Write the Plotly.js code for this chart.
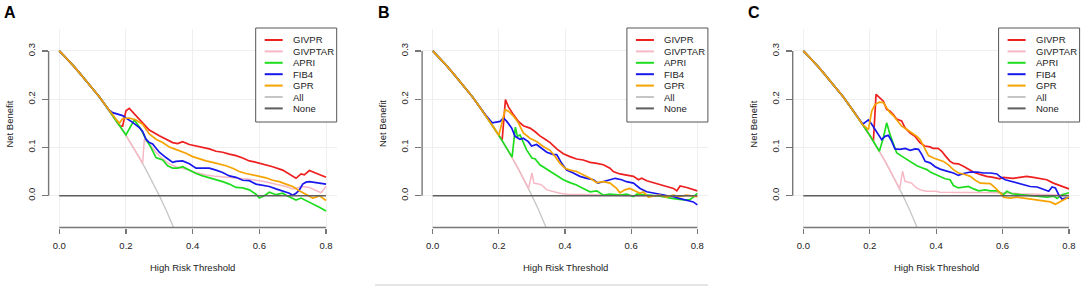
<!DOCTYPE html>
<html>
<head>
<meta charset="utf-8">
<script src="https://cdn.plot.ly/plotly-3.0.1.min.js"></script>
<style>
  html, body { margin: 0; padding: 0; background: #ffffff; }
  #chart { width: 1084px; height: 287px; }
</style>
</head>
<body>
<div id="chart"></div>
<script>
// ---------------- DATA ----------------
const seriesNames = ['GIVPR', 'GIVPTAR', 'APRI', 'FIB4', 'GPR', 'All', 'None'];
const panelLabels = ['A', 'B', 'C'];
const xTickVals = [0, 0.2, 0.4, 0.6, 0.8];
const xTickText = ['0.0', '0.2', '0.4', '0.6', '0.8'];
const yTickVals = [0, 0.1, 0.2, 0.3];
const yTickText = ['0.0', '0.1', '0.2', '0.3'];
const xTitle = 'High Risk Threshold';
const yTitle = 'Net Benefit';

// shared early segment (all models coincide here)
const commonT  = [0, 0.02, 0.04, 0.06, 0.08, 0.10, 0.12, 0.14];
const commonNB = [0.300, 0.286, 0.271, 0.255, 0.239, 0.222, 0.205, 0.186];

// treat-all and treat-none reference lines (same in every panel)
const allT  = [0, 0.02, 0.04, 0.06, 0.08, 0.10, 0.12, 0.14, 0.16, 0.18, 0.20, 0.22, 0.24, 0.26, 0.28, 0.30, 0.32, 0.34, 0.36];
const allNB = [0.300, 0.286, 0.271, 0.255, 0.239, 0.222, 0.205, 0.186, 0.167, 0.146, 0.125, 0.103, 0.079, 0.054, 0.028, 0.000, -0.029, -0.061, -0.094];
const noneT  = [0, 0.8];
const noneNB = [0, 0];

// ---- Panel A ----
const A_GIVPR_t  = [0.16,0.18,0.19,0.20,0.21,0.23,0.25,0.27,0.30,0.32,0.34,0.355,0.37,0.39,0.42,0.45,0.47,0.49,0.51,0.53,0.55,0.57,0.585,0.61,0.64,0.67,0.69,0.71,0.725,0.735,0.75,0.77,0.80];
const A_GIVPR_nb = [0.167,0.146,0.144,0.176,0.181,0.166,0.150,0.136,0.124,0.117,0.110,0.108,0.112,0.106,0.102,0.097,0.092,0.090,0.086,0.083,0.078,0.072,0.070,0.066,0.060,0.053,0.045,0.036,0.045,0.043,0.052,0.046,0.038];
const A_GIVPTAR_t  = [0.16,0.18,0.20,0.22,0.24,0.25,0.255,0.27,0.29,0.31,0.33,0.35,0.37,0.39,0.41,0.44,0.47,0.50,0.53,0.57,0.61,0.65,0.68,0.70,0.715,0.73,0.75,0.77,0.785,0.80];
const A_GIVPTAR_nb = [0.167,0.146,0.125,0.103,0.079,0.067,0.117,0.107,0.090,0.076,0.066,0.060,0.057,0.053,0.048,0.043,0.040,0.038,0.037,0.034,0.030,0.024,0.019,0.014,0.017,0.019,0.017,0.010,0.006,0.019];
const A_APRI_t  = [0.16,0.18,0.20,0.225,0.245,0.26,0.275,0.29,0.31,0.325,0.34,0.355,0.37,0.39,0.41,0.43,0.45,0.47,0.49,0.51,0.53,0.55,0.57,0.59,0.60,0.615,0.63,0.65,0.67,0.68,0.70,0.71,0.725,0.74,0.76,0.78,0.80];
const A_APRI_nb = [0.167,0.146,0.126,0.157,0.138,0.117,0.100,0.079,0.074,0.062,0.057,0.057,0.060,0.053,0.046,0.041,0.037,0.034,0.029,0.024,0.017,0.016,0.012,0.003,-0.005,0.000,0.007,0.002,0.005,0.001,-0.005,-0.009,-0.005,-0.010,-0.017,-0.024,-0.032];
const A_FIB4_t  = [0.15,0.16,0.18,0.19,0.20,0.22,0.24,0.25,0.26,0.27,0.28,0.30,0.32,0.34,0.35,0.37,0.39,0.41,0.43,0.45,0.47,0.49,0.51,0.53,0.55,0.57,0.59,0.61,0.63,0.65,0.67,0.69,0.70,0.71,0.72,0.73,0.74,0.75,0.76,0.78,0.80];
const A_FIB4_nb = [0.177,0.172,0.168,0.166,0.161,0.152,0.141,0.133,0.117,0.110,0.107,0.090,0.079,0.069,0.071,0.072,0.066,0.057,0.057,0.057,0.053,0.048,0.041,0.038,0.032,0.031,0.024,0.022,0.019,0.014,0.010,0.005,0.001,0.005,0.012,0.024,0.028,0.029,0.028,0.026,0.024];
const A_GPR_t  = [0.16,0.17,0.18,0.19,0.21,0.23,0.25,0.27,0.29,0.31,0.33,0.345,0.36,0.38,0.40,0.42,0.44,0.46,0.48,0.50,0.52,0.54,0.56,0.58,0.60,0.62,0.64,0.66,0.68,0.70,0.72,0.74,0.76,0.77,0.78,0.80];
const A_GPR_nb = [0.167,0.157,0.150,0.160,0.161,0.157,0.148,0.128,0.117,0.110,0.101,0.097,0.093,0.088,0.081,0.076,0.072,0.069,0.066,0.062,0.057,0.050,0.046,0.043,0.039,0.037,0.032,0.029,0.024,0.019,0.010,0.003,-0.005,-0.003,0.000,-0.010];

// ---- Panel B ----
const B_GIVPR_t  = [0.16,0.18,0.20,0.21,0.22,0.229,0.244,0.259,0.274,0.294,0.309,0.324,0.34,0.355,0.375,0.395,0.415,0.435,0.455,0.476,0.496,0.516,0.536,0.546,0.566,0.586,0.607,0.622,0.632,0.647,0.667,0.687,0.707,0.728,0.738,0.748,0.768,0.788,0.80];
const B_GIVPR_nb = [0.167,0.146,0.125,0.115,0.199,0.184,0.168,0.154,0.145,0.140,0.133,0.124,0.117,0.110,0.097,0.087,0.081,0.076,0.074,0.069,0.067,0.064,0.057,0.050,0.045,0.043,0.040,0.033,0.036,0.031,0.027,0.024,0.019,0.015,0.010,0.020,0.017,0.013,0.010];
const B_GIVPTAR_t  = [0.16,0.18,0.20,0.22,0.24,0.26,0.28,0.29,0.30,0.306,0.32,0.33,0.345,0.365,0.385,0.405,0.45,0.50,0.55,0.60,0.70,0.80];
const B_GIVPTAR_nb = [0.167,0.146,0.125,0.103,0.079,0.054,0.028,0.015,0.047,0.026,0.024,0.022,0.012,0.008,0.005,0.003,0.003,0.002,0.001,0.000,0.000,0.000];
const B_APRI_t  = [0.16,0.18,0.20,0.22,0.24,0.25,0.256,0.264,0.274,0.284,0.30,0.31,0.324,0.34,0.355,0.375,0.395,0.415,0.435,0.455,0.476,0.496,0.516,0.536,0.566,0.586,0.607,0.617,0.647,0.687,0.728,0.758,0.778,0.788,0.80];
const B_APRI_nb = [0.167,0.146,0.125,0.103,0.080,0.142,0.123,0.126,0.109,0.095,0.078,0.076,0.064,0.057,0.050,0.043,0.033,0.027,0.022,0.015,0.008,0.010,0.001,0.003,0.001,0.003,-0.002,0.003,0.001,-0.001,-0.006,-0.009,-0.008,-0.003,0.005];
const B_FIB4_t  = [0.16,0.18,0.193,0.204,0.214,0.224,0.239,0.249,0.264,0.274,0.289,0.299,0.314,0.33,0.345,0.365,0.375,0.39,0.405,0.425,0.445,0.466,0.486,0.50,0.516,0.531,0.552,0.571,0.586,0.607,0.627,0.647,0.667,0.687,0.707,0.728,0.748,0.768,0.788,0.80];
const B_FIB4_nb = [0.167,0.151,0.152,0.154,0.161,0.154,0.140,0.123,0.117,0.119,0.112,0.103,0.106,0.097,0.090,0.085,0.085,0.067,0.053,0.047,0.040,0.036,0.033,0.026,0.029,0.033,0.036,0.033,0.029,0.026,0.015,0.008,0.006,0.003,0.000,-0.002,-0.006,-0.009,-0.013,-0.019];
const B_GPR_t  = [0.16,0.18,0.20,0.219,0.229,0.244,0.259,0.274,0.294,0.314,0.334,0.355,0.37,0.385,0.40,0.415,0.435,0.455,0.476,0.496,0.516,0.536,0.556,0.566,0.581,0.596,0.611,0.627,0.637,0.652,0.667,0.687,0.707,0.727,0.747,0.767,0.788,0.80];
const B_GPR_nb = [0.167,0.146,0.125,0.178,0.175,0.165,0.151,0.130,0.119,0.1125,0.102,0.094,0.081,0.067,0.057,0.053,0.050,0.043,0.036,0.027,0.029,0.026,0.015,0.006,0.012,0.015,0.010,0.005,0.008,-0.003,-0.001,0.001,-0.003,0.001,-0.002,0.001,-0.001,-0.002];

// ---- Panel C ----
const C_GIVPR_t  = [0.16,0.18,0.20,0.211,0.219,0.231,0.241,0.251,0.261,0.271,0.281,0.296,0.306,0.321,0.336,0.351,0.366,0.381,0.391,0.406,0.417,0.427,0.442,0.452,0.467,0.482,0.497,0.512,0.532,0.552,0.572,0.592,0.602,0.622,0.632,0.652,0.672,0.693,0.713,0.733,0.753,0.773,0.80];
const C_GIVPR_nb = [0.167,0.146,0.125,0.113,0.210,0.203,0.196,0.179,0.175,0.168,0.159,0.155,0.141,0.130,0.123,0.110,0.103,0.101,0.098,0.098,0.092,0.083,0.071,0.067,0.066,0.061,0.055,0.049,0.044,0.040,0.038,0.035,0.038,0.037,0.036,0.038,0.040,0.038,0.036,0.033,0.026,0.021,0.014];
const C_GIVPTAR_t  = [0.16,0.18,0.20,0.22,0.24,0.26,0.28,0.29,0.299,0.306,0.316,0.326,0.341,0.356,0.371,0.401,0.411,0.452,0.502,0.552,0.602,0.652,0.703,0.753,0.80];
const C_GIVPTAR_nb = [0.167,0.146,0.125,0.103,0.079,0.054,0.028,0.014,0.051,0.030,0.028,0.026,0.016,0.011,0.009,0.009,0.007,0.007,0.007,0.007,0.006,0.004,0.003,0.002,0.001];
const C_APRI_t  = [0.16,0.18,0.20,0.22,0.229,0.241,0.251,0.261,0.271,0.281,0.296,0.312,0.327,0.342,0.357,0.372,0.382,0.397,0.412,0.427,0.442,0.452,0.467,0.482,0.497,0.513,0.528,0.548,0.563,0.583,0.603,0.613,0.628,0.653,0.683,0.714,0.734,0.754,0.764,0.779,0.80];
const C_APRI_nb = [0.167,0.146,0.125,0.103,0.092,0.120,0.151,0.127,0.106,0.089,0.082,0.075,0.068,0.062,0.058,0.054,0.049,0.044,0.039,0.035,0.033,0.021,0.016,0.018,0.019,0.014,0.010,0.012,0.010,0.010,0.002,0.009,0.004,0.002,0.000,-0.001,-0.003,-0.001,-0.006,0.002,0.006];
const C_FIB4_t  = [0.16,0.179,0.186,0.196,0.206,0.216,0.226,0.236,0.246,0.256,0.266,0.276,0.291,0.307,0.322,0.337,0.347,0.357,0.367,0.382,0.397,0.412,0.432,0.452,0.467,0.482,0.503,0.523,0.543,0.563,0.583,0.593,0.608,0.623,0.643,0.663,0.683,0.704,0.724,0.739,0.749,0.759,0.769,0.779,0.789,0.80];
const C_FIB4_nb = [0.167,0.148,0.152,0.157,0.148,0.137,0.127,0.116,0.123,0.125,0.113,0.097,0.096,0.098,0.094,0.097,0.096,0.085,0.071,0.068,0.060,0.055,0.051,0.047,0.042,0.046,0.049,0.049,0.047,0.047,0.045,0.039,0.033,0.030,0.026,0.023,0.019,0.018,0.012,0.009,0.018,0.016,0.002,-0.007,-0.005,-0.005];
const C_GPR_t  = [0.16,0.18,0.186,0.196,0.206,0.216,0.229,0.241,0.251,0.261,0.271,0.281,0.296,0.312,0.327,0.342,0.352,0.362,0.377,0.392,0.407,0.422,0.437,0.452,0.467,0.482,0.503,0.518,0.533,0.548,0.563,0.578,0.593,0.603,0.623,0.643,0.663,0.683,0.704,0.724,0.744,0.759,0.774,0.789,0.80];
const C_GPR_nb = [0.167,0.146,0.143,0.137,0.175,0.189,0.194,0.193,0.182,0.172,0.166,0.158,0.144,0.137,0.130,0.123,0.116,0.103,0.083,0.078,0.075,0.071,0.064,0.054,0.047,0.045,0.040,0.032,0.026,0.025,0.025,0.016,0.006,-0.003,-0.005,-0.003,-0.005,-0.006,-0.008,-0.010,-0.013,-0.018,-0.012,-0.007,-0.003];

// ---------------- STYLE ----------------
const colors = {GIVPR:'#ee1f1f', GIVPTAR:'#f6b8c4', APRI:'#1edd1e', FIB4:'#1818ee', GPR:'#f5a300', All:'#c6c6c6', None:'#5e5e5e'};
const widths = {GIVPR:1.7, GIVPTAR:1.5, APRI:1.7, FIB4:1.7, GPR:1.7, All:1.3, None:1.5};
const FONT = 'Liberation Sans, Arial, Helvetica, sans-serif';
const W = 1084, H = 287;
const px = p => p / W;
const py = p => 1 - p / H;

// plot-region pixel boxes of the three panels
const boxes = [
  {l: 48.6, r: 336.7},
  {l: 422.1, r: 707.9},
  {l: 792.7, r: 1079.6}
];
const plotTop = 29, plotBottom = 227.5;

const models = {
  A: {GIVPR:[A_GIVPR_t,A_GIVPR_nb], GIVPTAR:[A_GIVPTAR_t,A_GIVPTAR_nb], APRI:[A_APRI_t,A_APRI_nb], FIB4:[A_FIB4_t,A_FIB4_nb], GPR:[A_GPR_t,A_GPR_nb]},
  B: {GIVPR:[B_GIVPR_t,B_GIVPR_nb], GIVPTAR:[B_GIVPTAR_t,B_GIVPTAR_nb], APRI:[B_APRI_t,B_APRI_nb], FIB4:[B_FIB4_t,B_FIB4_nb], GPR:[B_GPR_t,B_GPR_nb]},
  C: {GIVPR:[C_GIVPR_t,C_GIVPR_nb], GIVPTAR:[C_GIVPTAR_t,C_GIVPTAR_nb], APRI:[C_APRI_t,C_APRI_nb], FIB4:[C_FIB4_t,C_FIB4_nb], GPR:[C_GPR_t,C_GPR_nb]}
};

const traces = [];
const shapes = [];
const annotations = [];
const layout = {
  width: W, height: H,
  margin: {l: 0, r: 0, t: 0, b: 0},
  paper_bgcolor: '#ffffff', plot_bgcolor: '#ffffff',
  showlegend: false,
  font: {family: FONT, size: 9.5, color: '#222222'}
};

panelLabels.forEach((lab, i) => {
  const n = i === 0 ? '' : String(i + 1);
  const xa = 'x' + n, ya = 'y' + n;
  const b = boxes[i];
  layout['xaxis' + n] = {
    domain: [px(b.l), px(b.r)], anchor: ya,
    range: [-0.032, 0.832], tickvals: xTickVals, ticktext: xTickText,
    ticks: 'outside', ticklen: 5, tickwidth: 1.2, tickcolor: '#777777',
    showgrid: true, gridcolor: '#efefef', gridwidth: 1,
    zeroline: false, showline: false,
    tickfont: {family: FONT, size: 9.5, color: '#222222'}, ticklabelstandoff: 4
  };
  layout['yaxis' + n] = {
    domain: [py(plotBottom), py(plotTop)], anchor: xa,
    range: [-0.066, 0.3455], tickvals: yTickVals, ticktext: yTickText,
    ticks: 'outside', ticklen: 6, tickwidth: 1.2, tickcolor: '#777777', tickangle: -90,
    showgrid: true, gridcolor: '#efefef', gridwidth: 1,
    zeroline: false, showline: false,
    tickfont: {family: FONT, size: 9.5, color: '#222222'}, ticklabelstandoff: 3
  };

  // All line (bottom)
  traces.push({x: allT, y: allNB, xaxis: xa, yaxis: ya, type: 'scatter', mode: 'lines',
    name: 'All', line: {color: colors.All, width: widths.All}, hoverinfo: 'skip'});
  // model curves
  ['GIVPR', 'GIVPTAR', 'APRI', 'FIB4', 'GPR'].forEach(m => {
    const [t, nb] = models[lab][m];
    traces.push({x: commonT.concat(t), y: commonNB.concat(nb), xaxis: xa, yaxis: ya,
      type: 'scatter', mode: 'lines', name: m,
      line: {color: colors[m], width: widths[m]}, hoverinfo: 'skip'});
  });
  // None line
  traces.push({x: noneT, y: noneNB, xaxis: xa, yaxis: ya, type: 'scatter', mode: 'lines',
    name: 'None', line: {color: colors.None, width: widths.None}, hoverinfo: 'skip'});

  // R-style axis lines spanning only the tick range
  shapes.push({type: 'line', xref: xa + ' domain', yref: ya, x0: 0, x1: 0, y0: 0, y1: 0.3,
    line: {color: '#777777', width: 1.4}});
  shapes.push({type: 'line', xref: xa, yref: ya + ' domain', x0: 0, x1: 0.8, y0: 0, y1: 0,
    line: {color: '#777777', width: 1.4}});

  // legend box (top-right of each panel)
  const legW = 81, legH = 94;
  const L = b.r - legW, T = plotTop - 1;
  shapes.push({type: 'rect', xref: 'paper', yref: 'paper', x0: px(L), x1: px(b.r), y0: py(T), y1: py(T + legH),
    line: {color: '#555555', width: 1}, fillcolor: '#ffffff', layer: 'above'});
  seriesNames.forEach((s, k) => {
    const yy = T + 12 + k * 11.4;
    shapes.push({type: 'line', xref: 'paper', yref: 'paper', x0: px(L + 9), x1: px(L + 27), y0: py(yy), y1: py(yy),
      line: {color: colors[s], width: 2}, layer: 'above'});
    annotations.push({xref: 'paper', yref: 'paper', x: px(L + 35), y: py(yy), xanchor: 'left', yanchor: 'middle',
      text: s, showarrow: false, font: {family: FONT, size: 9.5, color: '#222222'}});
  });

  // axis titles
  annotations.push({xref: xa, yref: 'paper', x: 0.4, y: py(267), xanchor: 'center', yanchor: 'middle',
    text: xTitle, showarrow: false, font: {family: FONT, size: 9.5, color: '#222222'}});
  annotations.push({xref: 'paper', yref: 'paper', x: px(b.l - 40), y: py(124), xanchor: 'center', yanchor: 'middle',
    text: yTitle, textangle: -90, showarrow: false, font: {family: FONT, size: 9.5, color: '#222222'}});
  // panel letter
  annotations.push({xref: 'paper', yref: 'paper', x: px(b.l - 38.6), y: py(13), xanchor: 'center', yanchor: 'middle',
    text: '<b>' + lab + '</b>', showarrow: false, font: {family: FONT, size: 16, color: '#000000'}});
});

// faint rule under panel B
shapes.push({type: 'line', xref: 'paper', yref: 'paper', x0: px(375), x1: px(708), y0: py(285), y1: py(285),
  line: {color: '#cccccc', width: 1}});

layout.shapes = shapes;
layout.annotations = annotations;

Plotly.newPlot('chart', traces, layout, {displayModeBar: false, staticPlot: true});
</script>
</body>
</html>
